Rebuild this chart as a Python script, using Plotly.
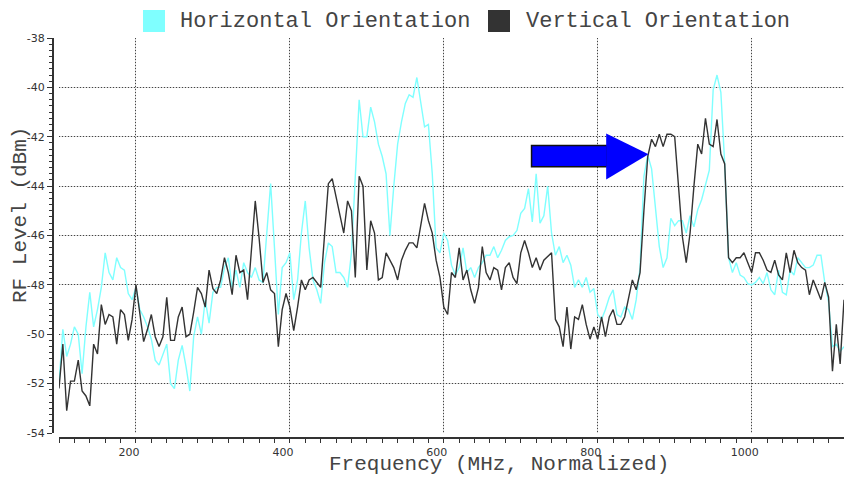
import plotly.graph_objects as go

# ---------------- data ----------------
FREQ_START = 100
FREQ_STEP = 5

horizontal = [
    -52.0, -49.8, -50.9, -50.4, -49.7, -50.0, -51.6, -49.7, -48.3, -49.7,   # 100-145
    -49.0, -48.1, -46.7, -47.5, -47.8, -46.9, -47.3, -47.4, -48.35, -48.6,  # 150-195
    -48.1, -49.0, -49.3, -49.7, -50.2, -51.05, -51.25, -50.8, -50.4, -52.0, # 200-245
    -52.2, -51.05, -50.45, -51.3, -52.3, -50.1, -49.3, -50.0, -48.6, -49.55,# 250-295
    -48.3, -48.1, -48.1, -47.3, -46.9, -48.1, -47.4, -48.1, -47.1, -47.5,   # 300-345
    -47.7, -47.3, -47.8, -47.9, -46.05, -43.9, -46.5, -49.2, -47.3, -47.1,  # 350-395
    -46.7, -48.6, -47.8, -45.9, -44.6, -46.5, -47.8, -48.2, -48.75, -47.1,  # 400-445
    -46.3, -46.45, -47.5, -47.5, -47.7, -48.1, -46.7, -43.75, -40.5, -42.0, # 450-495
    -42.0, -40.8, -41.4, -42.3, -42.8, -43.5, -46.0, -44.0, -42.3, -41.4,   # 500-545
    -40.65, -40.3, -40.4, -39.6, -40.6, -41.6, -41.5, -43.5, -46.5, -46.7,  # 550-595
    -45.9, -46.2, -47.2, -47.6, -47.3, -46.5, -47.5, -47.3, -47.7, -47.3,   # 600-645
    -47.1, -46.8, -46.8, -46.45, -46.9, -46.6, -46.2, -46.05, -46.0, -45.8, # 650-695
    -45.1, -44.9, -44.1, -45.45, -43.5, -45.5, -45.2, -44.0, -45.9, -46.8,  # 700-745
    -46.45, -47.1, -46.8, -47.2, -48.1, -47.8, -48.1, -47.7, -48.3, -48.15, # 750-795
    -49.2, -49.4, -49.0, -48.5, -48.2, -49.2, -49.3, -48.9, -49.0, -49.4,   # 800-845
    -48.6, -47.3, -43.6, -42.75, -43.3, -45.0, -46.45, -47.3, -46.9, -45.3, # 850-895
    -45.6, -45.4, -45.4, -45.9, -45.2, -45.65, -44.95, -44.55, -44.0, -43.35,  # 900-945
    -40.1, -39.5, -40.2, -43.1, -46.9, -47.5, -47.1, -47.6, -47.7, -47.95,  # 950-995
    -48.0, -47.9, -47.7, -47.95, -47.5, -48.2, -48.4, -47.4, -48.3, -48.4,  # 1000-1045
    -47.4, -47.6, -46.9, -47.1, -47.3, -47.3, -47.2, -46.8, -46.8, -47.9,   # 1050-1095
    -48.7, -50.5, -50.4, -50.7, -50.5,                                      # 1100-1120
]

vertical = [
    -52.2, -50.4, -53.1, -51.9, -51.9, -51.05, -52.3, -52.5, -52.9, -50.4,  # 100-145
    -50.8, -48.8, -49.6, -49.2, -49.3, -50.4, -49.0, -49.2, -50.25, -49.4,  # 150-195
    -48.0, -49.2, -50.3, -49.8, -49.2, -50.1, -50.5, -50.1, -48.5, -50.25,  # 200-245
    -50.25, -49.3, -48.9, -50.1, -50.0, -49.1, -48.1, -48.35, -48.9, -47.4, # 250-295
    -48.15, -48.35, -47.8, -46.9, -47.5, -48.4, -46.8, -47.5, -47.4, -48.6, # 300-345
    -46.7, -44.6, -46.1, -47.9, -47.5, -48.2, -48.35, -50.5, -49.0, -48.35, # 350-395
    -48.9, -49.85, -48.9, -47.8, -48.2, -47.8, -47.7, -47.9, -48.1, -46.0,  # 400-445
    -43.9, -43.7, -44.4, -45.2, -45.9, -44.6, -45.0, -47.7, -43.6, -44.0,   # 450-495
    -47.4, -45.4, -45.9, -47.8, -47.7, -46.7, -47.0, -47.3, -47.8, -47.0,   # 500-545
    -46.6, -46.3, -46.3, -46.5, -45.6, -44.7, -45.4, -45.9, -47.0, -47.7,   # 550-595
    -48.9, -49.2, -47.5, -47.7, -46.5, -47.8, -47.4, -48.2, -48.75, -48.1,  # 600-645
    -46.45, -47.5, -47.8, -47.3, -47.4, -48.2, -47.3, -47.1, -47.7, -47.95, # 650-695
    -46.7, -46.2, -46.7, -47.3, -46.9, -47.4, -47.0, -46.85, -46.7, -49.4,  # 700-745
    -49.7, -50.5, -48.9, -50.6, -49.3, -49.4, -48.8, -49.6, -50.2, -49.7,   # 750-795
    -50.2, -49.3, -50.1, -49.3, -49.0, -49.6, -49.6, -49.3, -48.6, -47.8,   # 800-845
    -48.2, -47.5, -45.0, -42.8, -42.1, -42.4, -41.9, -42.4, -41.9, -41.9,   # 850-895
    -42.0, -43.9, -46.05, -47.1, -45.9, -44.0, -42.3, -42.7, -41.25, -42.3, # 900-945
    -42.4, -41.3, -42.7, -43.1, -46.9, -47.1, -46.9, -46.9, -46.7, -47.1,   # 950-995
    -47.5, -46.7, -46.7, -47.0, -47.4, -47.5, -47.0, -47.6, -47.8, -46.7,   # 1000-1045
    -47.5, -46.6, -47.1, -47.3, -47.4, -48.4, -47.8, -48.2, -48.6, -47.9,   # 1050-1095
    -48.5, -51.5, -49.6, -51.2, -48.6,                                      # 1100-1120
]

freq = [FREQ_START + FREQ_STEP * i for i in range(len(horizontal))]

series_names = ["Horizontal Orientation", "Vertical Orientation"]
series_colors = ["#7fffff", "#333333"]

x_range = [100, 1120]
y_range = [-54, -38]
x_tick_vals = [200, 400, 600, 800, 1000]
x_tick_text = ["200", "400", "600", "800", "1000"]
y_tick_vals = [-54, -52, -50, -48, -46, -44, -42, -40, -38]
y_tick_text = ["-54", "-52", "-50", "-48", "-46", "-44", "-42", "-40", "-38"]

# annotation arrow (data coordinates)
arrow_tail_x = 714
arrow_head_base_x = 812
arrow_tip_x = 866
arrow_shaft_y = [-42.35, -43.22]
arrow_head_y = [-41.87, -43.73]
arrow_tip_y = -42.71

# ---------------- figure ----------------
W, H = 844, 477
ML, MR, MT, MB = 53, 0, 38, 39
PW = W - ML - MR
PH = H - MT - MB


def px_x(px):
    return (px - ML) / PW


def px_y(py):
    return (H - MB - py) / PH


fig = go.Figure()

for name, vals, col in zip(series_names, [horizontal, vertical], series_colors):
    fig.add_trace(go.Scatter(
        x=freq, y=vals, mode="lines", name=name,
        line=dict(color=col, width=1.4), showlegend=False,
    ))

# dummy trace for the overlay grid axes
fig.add_trace(go.Scatter(x=[None], y=[None], xaxis="x2", yaxis="y2",
                         showlegend=False, hoverinfo="skip"))

tick_font = dict(family="DejaVu Sans", size=11, color="#333333")
mono = "Liberation Mono, Courier New, monospace"
text_color = "#444444"
x_dom = [6 / PW, 1]
y_dom = [5 / PH, 1]

fig.update_layout(
    width=W, height=H,
    margin=dict(l=ML, r=MR, t=MT, b=MB, pad=0),
    paper_bgcolor="white", plot_bgcolor="white",
    showlegend=False,
    xaxis=dict(
        domain=x_dom, range=x_range, anchor="free", position=0,
        showline=True, linecolor="#333333", linewidth=2,
        ticks="outside", ticklen=4, tickwidth=1, tickcolor="#333333",
        tickmode="array", tickvals=x_tick_vals, ticktext=x_tick_text,
        tickfont=tick_font, ticklabelshift=-7,
        showgrid=True, gridcolor="#d4d4d4", gridwidth=1, zeroline=False,
        minor=dict(tickmode="linear", tick0=0, dtick=20, ticks="outside",
                   ticklen=4, tickcolor="#333333", showgrid=False),
    ),
    yaxis=dict(
        domain=y_dom, range=y_range, anchor="free", position=0,
        showline=True, linecolor="#333333", linewidth=2,
        ticks="outside", ticklen=5, tickwidth=1, tickcolor="#333333",
        tickmode="array", tickvals=y_tick_vals, ticktext=y_tick_text,
        tickfont=tick_font,
        showgrid=True, gridcolor="#d4d4d4", gridwidth=1, zeroline=False,
        minor=dict(tickmode="linear", tick0=0, dtick=0.25, ticks="outside",
                   ticklen=3, tickcolor="#333333", showgrid=False),
    ),
    xaxis2=dict(
        domain=x_dom, range=x_range, overlaying="x", anchor="free", position=0,
        showline=False, ticks="", showticklabels=False,
        tickmode="array", tickvals=x_tick_vals,
        showgrid=True, gridcolor="#444444", gridwidth=1, griddash="1px,2px",
        zeroline=False,
    ),
    yaxis2=dict(
        domain=y_dom, range=y_range, overlaying="y", anchor="free", position=0,
        showline=False, ticks="", showticklabels=False,
        tickmode="array", tickvals=y_tick_vals,
        showgrid=True, gridcolor="#444444", gridwidth=1, griddash="1px,2px",
        zeroline=False,
    ),
)

shapes = []
# arrow: shaft with outline, then head
shapes.append(dict(type="rect", xref="x", yref="y",
                   x0=arrow_tail_x, x1=arrow_head_base_x,
                   y0=arrow_shaft_y[1], y1=arrow_shaft_y[0],
                   fillcolor="#0000ff", line=dict(color="#111111", width=1.5)))
shapes.append(dict(type="path", xref="x", yref="y",
                   path=(f"M {arrow_head_base_x - 1},{arrow_head_y[0]} "
                         f"L {arrow_tip_x},{arrow_tip_y} "
                         f"L {arrow_head_base_x - 1},{arrow_head_y[1]} Z"),
                   fillcolor="#0000ff", line=dict(width=0)))

# legend swatches
legend_sw_x = [143, 488]
legend_txt_x = [178, 524]
for sx, col in zip(legend_sw_x, series_colors):
    shapes.append(dict(type="rect", xref="paper", yref="paper",
                       x0=px_x(sx), x1=px_x(sx + 22), y0=px_y(32), y1=px_y(10),
                       fillcolor=col, line=dict(width=0)))
fig.update_layout(shapes=shapes)

annotations = []
for tx, name in zip(legend_txt_x, series_names):
    annotations.append(dict(text=name, xref="paper", yref="paper",
                            x=px_x(tx), y=px_y(21), xanchor="left", yanchor="middle",
                            showarrow=False,
                            font=dict(family=mono, size=22, color=text_color)))
annotations.append(dict(text="Frequency (MHz, Normalized)", xref="paper", yref="paper",
                        x=px_x(499), y=px_y(464), xanchor="center", yanchor="middle",
                        showarrow=False,
                        font=dict(family=mono, size=21, color=text_color)))
annotations.append(dict(text="RF Level (dBm)", xref="paper", yref="paper",
                        x=px_x(20), y=px_y(215), xanchor="center", yanchor="middle",
                        textangle=-90, showarrow=False,
                        font=dict(family=mono, size=21, color=text_color)))
fig.update_layout(annotations=annotations)

fig.write_html("out.html", config={"displayModeBar": False},
               post_script="document.body.style.margin='0';")
